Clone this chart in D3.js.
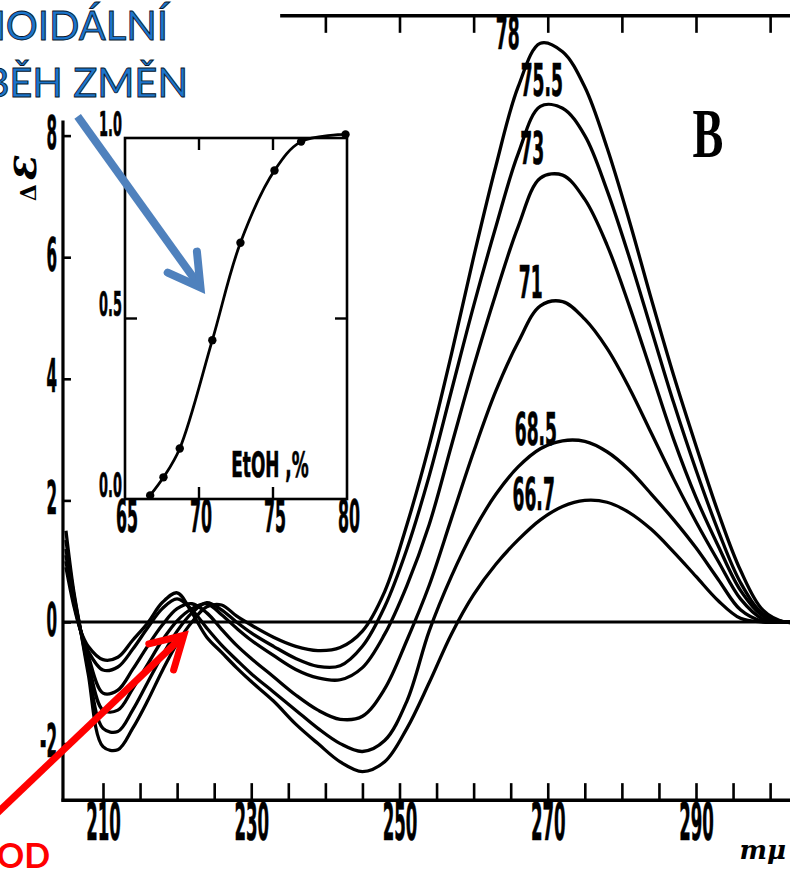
<!DOCTYPE html>
<html>
<head>
<meta charset="utf-8">
<script src="https://cdn.jsdelivr.net/npm/d3@7"></script>
<style>
  html, body { margin: 0; padding: 0; background: #fff; }
  svg { display: block; }
</style>
</head>
<body>
<svg id="chart" width="790" height="871"></svg>
<script>
// ---- CD spectra of DNA at different ethanol concentrations ----
// wavelength grid (mμ) shared by every spectrum
const wavelengths = [205, 206, 207, 208, 210, 212, 214, 216, 218, 220, 222, 224, 226, 228, 230, 233, 236, 239, 242, 245,
                     248, 251, 254, 257, 260, 263, 266, 269, 272, 275, 278, 281, 284, 287, 290, 293, 296, 299, 302, 304];

// series names: EtOH, %
const etohLabels = ["66.7", "68.5", "71", "73", "75.5", "78"];

// Δε values on the wavelength grid
const de667 = [0.9, 0.3, -0.15, -0.4, -0.62, -0.58, -0.3, -0.02, 0.32, 0.48, 0.15, -0.25, -0.5, -0.75, -0.98, -1.3, -1.68, -2.0, -2.3, -2.46,
               -2.3, -1.75, -1.0, -0.2, 0.45, 0.95, 1.35, 1.68, 1.9, 2.0, 1.97, 1.8, 1.52, 1.15, 0.75, 0.35, 0.06, 0.0, 0.0, 0.0];
const de685 = [1.0, 0.35, -0.15, -0.48, -0.79, -0.74, -0.45, -0.1, 0.22, 0.38, 0.2, -0.1, -0.38, -0.62, -0.85, -1.15, -1.45, -1.75, -2.0, -2.13,
               -1.95, -1.3, -0.15, 0.75, 1.5, 2.1, 2.55, 2.85, 2.98, 2.97, 2.8, 2.5, 2.1, 1.68, 1.22, 0.7, 0.2, 0.01, 0.0, 0.0];
const de71  = [1.1, 0.4, -0.15, -0.55, -1.17, -1.12, -0.78, -0.4, -0.05, 0.22, 0.3, 0.15, -0.12, -0.38, -0.6, -0.9, -1.2, -1.45, -1.6, -1.55,
               -1.1, -0.3, 0.6, 1.7, 2.8, 3.8, 4.6, 5.2, 5.27, 4.98, 4.5, 3.85, 3.1, 2.35, 1.65, 1.0, 0.38, 0.05, 0.0, 0.0];
const de73  = [1.2, 0.45, -0.15, -0.65, -1.45, -1.45, -1.1, -0.7, -0.3, 0.02, 0.22, 0.3, 0.12, -0.1, -0.3, -0.55, -0.78, -0.92, -0.95, -0.75,
               -0.2, 0.6, 1.6, 2.9, 4.2, 5.4, 6.5, 7.3, 7.35, 6.95, 6.2, 5.2, 4.1, 3.0, 2.05, 1.25, 0.52, 0.1, 0.0, 0.0];
const de755 = [1.35, 0.5, -0.15, -0.75, -1.75, -1.8, -1.45, -1.0, -0.55, -0.15, 0.15, 0.32, 0.2, 0.0, -0.18, -0.4, -0.6, -0.73, -0.72, -0.4,
               0.25, 1.2, 2.4, 3.8, 5.2, 6.5, 7.7, 8.48, 8.45, 8.0, 7.1, 6.0, 4.8, 3.6, 2.5, 1.5, 0.65, 0.14, 0.0, 0.0];
const de78  = [1.5, 0.55, -0.15, -0.85, -2.05, -2.1, -1.75, -1.3, -0.8, -0.35, 0.0, 0.25, 0.28, 0.1, -0.05, -0.25, -0.4, -0.47, -0.42, -0.15,
               0.5, 1.6, 2.9, 4.4, 6.0, 7.5, 8.8, 9.52, 9.38, 8.8, 7.8, 6.6, 5.3, 4.05, 2.9, 1.8, 0.85, 0.2, 0.0, 0.0];
const spectra = [de667, de685, de71, de73, de755, de78];

// axis ticks
const bottomTicks = [210, 215, 220, 225, 230, 235, 240, 245, 250, 255, 260, 265, 270, 275, 280, 285, 290, 295, 300];
const bottomTickLabels = [210, 230, 250, 270, 290];
const topTicks = [240, 250, 260, 270, 280, 290, 300];
const leftTicks = [-2, 0, 2, 4, 6, 8];

// ---- inset: fraction of the transition vs. EtOH ----
const insetEtoh = [66.7, 67.6, 68.7, 70.9, 72.8, 75.1, 76.9, 79.9];
const insetFraction = [0.01, 0.06, 0.14, 0.44, 0.71, 0.91, 0.99, 1.01];
const insetXTicks = [65, 70, 75, 80];
const insetYTicks = [0, 0.5, 1];

// ---- layout ----
const svg = d3.select("#chart");
const W = 790, H = 871;
const FONT = "'DejaVu Sans', sans-serif";

const x = d3.scaleLinear().domain([210, 290]).range([103, 696]);
const y = d3.scaleLinear().domain([-2, 8]).range([743.6, 135.6]);
const X_LEFT = 204.6, X_RIGHT = 304;
const Y_BOTTOM = -2.93, Y_TOP = 9.97, Y_AXIS_TOP = 8.25, TOP_START = 233.9;

// condensed heavy lettering used throughout the figure
function squeezed(sel, sx) {
  return sel.attr("font-family", FONT).attr("font-weight", "bold").attr("fill", "#000")
            .attr("stroke", "#000").attr("stroke-width", 0.7)
            .attr("transform", `scale(${sx},1)`);
}
function label(g, px, py, txt, size, sx, anchor) {
  g.append("text")
    .attr("x", px / sx).attr("y", py)
    .attr("font-size", size).attr("text-anchor", anchor || "middle")
    .text(txt)
    .call(s => squeezed(s, sx));
}

// bottom axis (ticks point inward)
const gBottom = svg.append("g").attr("transform", `translate(0,${y(Y_BOTTOM)})`)
  .call(d3.axisBottom(x).tickValues(bottomTicks).tickSize(-17).tickSizeOuter(0)
        .tickFormat(d => bottomTickLabels.includes(d) ? String(d) : ""));
gBottom.select(".domain").remove();
gBottom.selectAll(".tick line").attr("stroke", "#000").attr("stroke-width", 2.6);
gBottom.selectAll(".tick text").attr("y", 40).attr("dy", 0).attr("font-size", 52)
  .call(s => squeezed(s, 0.32));
svg.append("line").attr("x1", x(X_LEFT) - 1.5).attr("x2", W)
  .attr("y1", y(Y_BOTTOM)).attr("y2", y(Y_BOTTOM))
  .attr("stroke", "#000").attr("stroke-width", 3.5);

// top frame line
const gTop = svg.append("g").attr("transform", `translate(0,${y(Y_TOP)})`)
  .call(d3.axisBottom(x).tickValues(topTicks).tickSize(17).tickSizeOuter(0).tickFormat(""));
gTop.select(".domain").remove();
gTop.selectAll(".tick line").attr("stroke", "#000").attr("stroke-width", 2.6);
svg.append("line").attr("x1", x(TOP_START)).attr("x2", W)
  .attr("y1", y(Y_TOP)).attr("y2", y(Y_TOP))
  .attr("stroke", "#000").attr("stroke-width", 3.5);

// left axis
const gLeft = svg.append("g").attr("transform", `translate(${x(X_LEFT)},0)`)
  .call(d3.axisLeft(y).tickValues(leftTicks).tickSize(-8).tickSizeOuter(0).tickFormat(d => String(d)));
gLeft.select(".domain").remove();
gLeft.selectAll(".tick line").attr("stroke", "#000").attr("stroke-width", 2.6);
gLeft.selectAll(".tick text").attr("x", -6 / 0.33).attr("dy", 13).attr("font-size", 46)
  .call(s => squeezed(s, 0.33));
svg.append("line").attr("x1", x(X_LEFT)).attr("x2", x(X_LEFT))
  .attr("y1", y(Y_AXIS_TOP)).attr("y2", y(Y_BOTTOM) + 1.5)
  .attr("stroke", "#000").attr("stroke-width", 3.2);

// zero line
svg.append("line").attr("x1", x(X_LEFT)).attr("x2", W)
  .attr("y1", y(0)).attr("y2", y(0))
  .attr("stroke", "#000").attr("stroke-width", 3);

// spectra
svg.append("clipPath").attr("id", "plotClip").append("rect")
  .attr("x", x(X_LEFT)).attr("y", 0).attr("width", W - x(X_LEFT)).attr("height", y(Y_BOTTOM));
const line = d3.line().x((d, i) => x(wavelengths[i])).y(d => y(d)).curve(d3.curveCatmullRom.alpha(0.5));
svg.append("g").attr("clip-path", "url(#plotClip)")
  .selectAll("path").data(spectra).join("path")
  .attr("d", line).attr("fill", "none").attr("stroke", "#000")
  .attr("stroke-width", 3.3).attr("stroke-linejoin", "round");

// series labels (placed just above-left of each maximum)
const labelSpots = [[268.1, 2.05], [268.4, 3.12], [267.7, 5.54], [267.9, 7.74], [269.2, 8.87], [264.6, 9.63]];
const gLab = svg.append("g");
etohLabels.forEach((t, i) => {
  label(gLab, x(labelSpots[i][0]), y(labelSpots[i][1]) + 13, t, 44, 0.39);
});

// ordinate title
const gTitle = svg.append("g").attr("transform", "translate(36,178) rotate(-90)");
gTitle.append("text").attr("text-anchor", "middle").attr("font-family", "'DejaVu Serif', serif")
  .attr("font-weight", "bold")
  .call(t => {
    t.append("tspan").attr("font-size", 22).text("Δ");
    t.append("tspan").attr("font-size", 42).attr("font-style", "italic").attr("dx", 4).text("ε");
  });

// abscissa unit
svg.append("text").attr("x", 786).attr("y", 859).attr("text-anchor", "end")
  .attr("font-family", "'DejaVu Serif', serif").attr("font-style", "italic").attr("font-weight", "bold")
  .attr("font-size", 26).text("mμ");

// panel letter
svg.append("text").attr("x", 708 / 0.66).attr("y", 157).attr("text-anchor", "middle")
  .attr("font-family", "'Liberation Serif', serif").attr("font-weight", "bold")
  .attr("font-size", 70).attr("transform", "scale(0.66,1)").text("B");

// ---- inset ----
const ix = d3.scaleLinear().domain([65, 80]).range([125, 347]);
const iy = d3.scaleLinear().domain([0, 1]).range([499, 138]);
const gIn = svg.append("g");
gIn.append("rect").attr("x", ix(65)).attr("y", iy(1)).attr("width", ix(80) - ix(65)).attr("height", iy(0) - iy(1))
  .attr("fill", "#fff").attr("stroke", "#000").attr("stroke-width", 2.6);
// inward ticks on all four sides
insetXTicks.slice(1, -1).forEach(v => {
  gIn.append("line").attr("x1", ix(v)).attr("x2", ix(v)).attr("y1", iy(0)).attr("y2", iy(0) - 12).attr("stroke", "#000").attr("stroke-width", 2.4);
  gIn.append("line").attr("x1", ix(v)).attr("x2", ix(v)).attr("y1", iy(1)).attr("y2", iy(1) + 12).attr("stroke", "#000").attr("stroke-width", 2.4);
});
insetYTicks.slice(1, -1).forEach(v => {
  gIn.append("line").attr("x1", ix(65)).attr("x2", ix(65) + 12).attr("y1", iy(v)).attr("y2", iy(v)).attr("stroke", "#000").attr("stroke-width", 2.4);
  gIn.append("line").attr("x1", ix(80)).attr("x2", ix(80) - 12).attr("y1", iy(v)).attr("y2", iy(v)).attr("stroke", "#000").attr("stroke-width", 2.4);
});
insetXTicks.forEach(v => label(gIn, ix(v) + 2, iy(0) + 33, String(v), 44, 0.36));
insetYTicks.forEach(v => label(gIn, ix(65) - 3, iy(v) - 2, d3.format(".1f")(v), 34, 0.38, "end"));
label(gIn, 270, 477, "EtOH ,%", 36, 0.47);

const insetLine = d3.line().x((d, i) => ix(insetEtoh[i])).y(d => iy(d)).curve(d3.curveCatmullRom.alpha(0.5));
gIn.append("path").datum(insetFraction).attr("d", insetLine)
  .attr("fill", "none").attr("stroke", "#000").attr("stroke-width", 2.8);
gIn.selectAll("circle").data(insetFraction).join("circle")
  .attr("cx", (d, i) => ix(insetEtoh[i])).attr("cy", d => iy(d)).attr("r", 4.2).attr("fill", "#000");

// ---- annotations ----
function arrow(g, x0, y0, x1, y1, color, width, arm) {
  const a = Math.atan2(y0 - y1, x0 - x1), spread = Math.PI / 6;
  g.append("line").attr("x1", x0).attr("y1", y0).attr("x2", x1).attr("y2", y1)
    .attr("stroke", color).attr("stroke-width", width);
  const p1 = [x1 + arm * Math.cos(a + spread), y1 + arm * Math.sin(a + spread)];
  const p2 = [x1 + arm * Math.cos(a - spread), y1 + arm * Math.sin(a - spread)];
  g.append("path").attr("d", `M${p1}L${x1},${y1}L${p2}`)
    .attr("fill", "none").attr("stroke", color).attr("stroke-width", width)
    .attr("stroke-linejoin", "miter").attr("stroke-linecap", "round");
}
const gAnn = svg.append("g");
arrow(gAnn, ix(61.8), iy(1.06), ix(70.1), iy(0.586), "#4F81BD", 8, 36);
arrow(gAnn, x(194.7), y(-3.26), x(220.9), y(-0.22), "#FF0000", 7, 36);

const blueText = gAnn.append("g").attr("font-family", "Lato, 'Open Sans', sans-serif")
  .attr("font-size", 40).attr("fill", "#1C75CC").attr("stroke", "#08152a").attr("stroke-width", 0.9)
  .attr("text-anchor", "end");
blueText.append("text").attr("x", 168).attr("y", 40).text("SIGMOIDÁLNÍ");
blueText.append("text").attr("x", 188).attr("y", 97).text("PRŮBĚH ZMĚN");

gAnn.append("text").attr("x", 50).attr("y", 868).attr("text-anchor", "end")
  .attr("font-family", "Lato, 'Open Sans', sans-serif").attr("font-weight", "bold")
  .attr("font-size", 34).attr("fill", "#FF0000").text("IZOSBESTICKÝ BOD");
</script>
</body>
</html>
